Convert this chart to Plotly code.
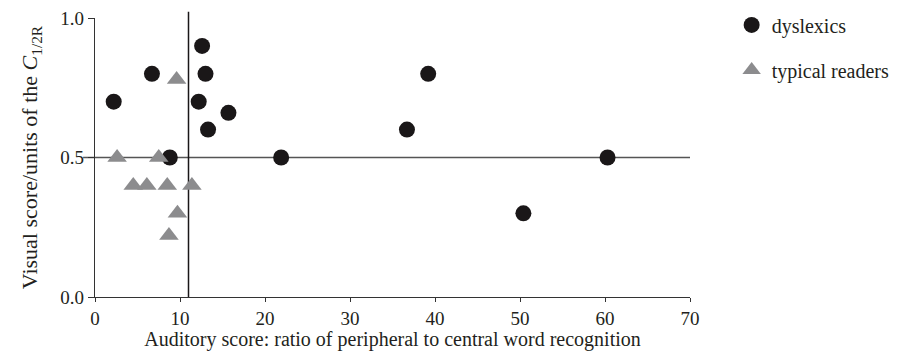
import plotly.graph_objects as go

# Data
dys_x = [2.2, 6.7, 8.8, 12.6, 13.0, 12.2, 13.3, 15.7, 21.9, 36.7, 39.2, 50.4, 60.3]
dys_y = [0.70, 0.80, 0.50, 0.90, 0.80, 0.70, 0.60, 0.66, 0.50, 0.60, 0.80, 0.30, 0.50]

typ_x = [2.6, 7.5, 9.6, 4.5, 6.1, 8.5, 11.4, 9.7, 8.7]
typ_y = [0.50, 0.50, 0.78, 0.40, 0.40, 0.40, 0.40, 0.30, 0.22]

x_ticks = [0, 10, 20, 30, 40, 50, 60, 70]
y_ticks = [0.0, 0.5, 1.0]
auditory_cut = 11.0
visual_cut = 0.5

FONT = "Liberation Serif"
INK = "#231f20"

fig = go.Figure()
fig.add_trace(go.Scatter(
    x=dys_x, y=dys_y, mode="markers", name="dyslexics",
    marker=dict(symbol="circle", size=16, color="#1a1718"),
    legendgroup="a", cliponaxis=False,
))
fig.add_trace(go.Scatter(
    x=typ_x, y=typ_y, mode="markers", name="typical readers",
    marker=dict(symbol="triangle-up", size=17, color="#8c8c8e"),
    legendgroup="b", cliponaxis=False,
))

# reference lines
fig.add_shape(type="line", xref="paper", yref="y", x0=-0.02, x1=1.0,
              y0=visual_cut, y1=visual_cut, line=dict(color="#555555", width=1.3),
              layer="below")
fig.add_shape(type="line", xref="x", yref="paper", x0=auditory_cut, x1=auditory_cut,
              y0=0, y1=1.022, line=dict(color="#1a1718", width=1.5), layer="below")

fig.update_layout(
    width=905, height=351,
    margin=dict(l=95, r=215, t=18, b=54, autoexpand=False),
    paper_bgcolor="white", plot_bgcolor="white",
    font=dict(family=FONT, size=20, color=INK),
    showlegend=True,
    legend=dict(x=1.07, y=1.045, xanchor="left", yanchor="top",
                font=dict(family=FONT, size=20, color=INK),
                tracegroupgap=16, bgcolor="rgba(0,0,0,0)",
                itemsizing="trace"),
    xaxis=dict(
        range=[0, 70], tickvals=x_ticks, ticks="outside", ticklen=4,
        tickcolor="#333333", showline=True, linecolor="#333333", linewidth=1.3,
        showgrid=False, zeroline=False, tickfont=dict(size=19),
        title=dict(text="Auditory score: ratio of peripheral to central word recognition",
                   font=dict(size=20), standoff=2),
    ),
    yaxis=dict(
        range=[0, 1.0], tickvals=y_ticks, tickformat=".1f", ticks="outside", ticklen=6,
        tickcolor="#333333", showline=True, linecolor="#333333", linewidth=1.3,
        showgrid=False, zeroline=False, tickfont=dict(size=19),
        title=dict(text="Visual score/units of the <i>C</i><sub>1/2R</sub>",
                   font=dict(size=22), standoff=16),
    ),
)

fig.write_html("out.html", config={"displayModeBar": False},
               post_script="document.body.style.margin='0';")
